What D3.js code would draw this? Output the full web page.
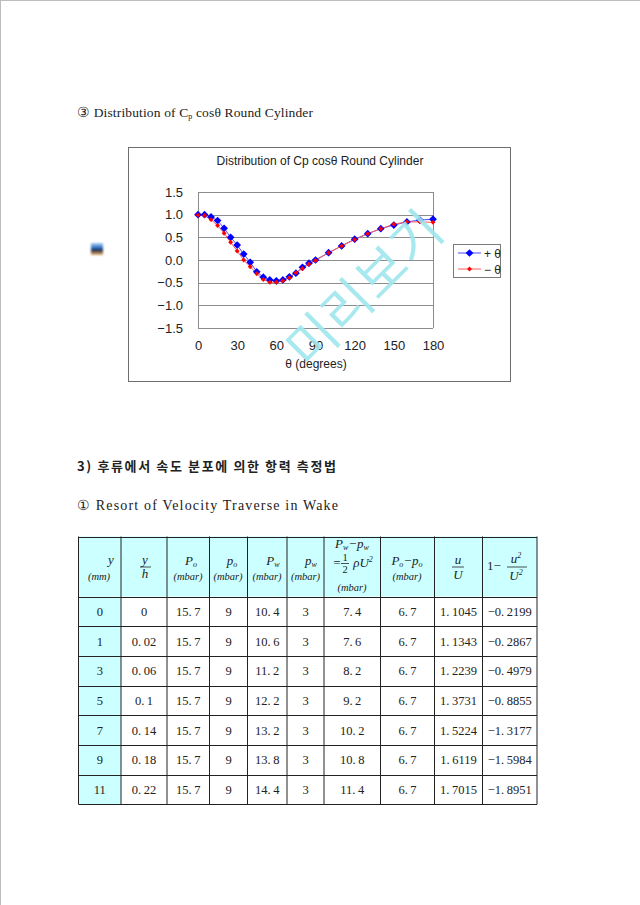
<!DOCTYPE html>
<html><head><meta charset="utf-8">
<script src="https://cdn.jsdelivr.net/npm/d3@7"></script>
<style>
html,body{margin:0;padding:0;background:#fff;}
svg{display:block;}
</style></head>
<body>
<script>
// ---------- chart data ----------
const angles = [0,5,10,15,20,25,30,35,40,45,50,55,60,65,70,75,80,85,90,100,110,120,130,140,150,160,170,180];
const cpPlus  = [1.00,1.00,0.95,0.87,0.70,0.50,0.33,0.13,-0.05,-0.26,-0.38,-0.44,-0.46,-0.44,-0.37,-0.29,-0.16,-0.07,0.00,0.16,0.31,0.46,0.58,0.69,0.77,0.84,0.88,0.90];
const cpMinus = [0.99,0.98,0.89,0.76,0.59,0.39,0.20,0.00,-0.15,-0.30,-0.43,-0.49,-0.49,-0.46,-0.39,-0.28,-0.19,-0.09,-0.01,0.16,0.31,0.45,0.58,0.69,0.79,0.84,0.84,0.83];
const yTicks = [-1.5,-1.0,-0.5,0.0,0.5,1.0,1.5];
const xTicks = [0,30,60,90,120,150,180];
const seriesNames = ["+ \u03b8", "\u2212 \u03b8"];
const chartTitle = "Distribution of Cp cos\u03b8 Round Cylinder";
const xTitle = "\u03b8 (degrees)";

// ---------- table data ----------
const colY   = ["0","1","3","5","7","9","11"];
const colYH  = ["0","0.02","0.06","0.1","0.14","0.18","0.22"];
const colPo  = ["15.7","15.7","15.7","15.7","15.7","15.7","15.7"];
const colpo  = ["9","9","9","9","9","9","9"];
const colPw  = ["10.4","10.6","11.2","12.2","13.2","13.8","14.4"];
const colpw  = ["3","3","3","3","3","3","3"];
const colDyn = ["7.4","7.6","8.2","9.2","10.2","10.8","11.4"];
const colDp  = ["6.7","6.7","6.7","6.7","6.7","6.7","6.7"];
const colUU  = ["1.1045","1.1343","1.2239","1.3731","1.5224","1.6119","1.7015"];
const colOne = ["-0.2199","-0.2867","-0.4979","-0.8855","-1.3177","-1.5984","-1.8951"];

const W = 640, H = 905;
const svg = d3.select("body").append("svg").attr("width", W).attr("height", H);
const defs = svg.append("defs");

// page border (top/left)
svg.append("line").attr("x1",0).attr("x2",W).attr("y1",0.5).attr("y2",0.5).attr("stroke","#bdbdbd");
svg.append("line").attr("x1",0.5).attr("x2",0.5).attr("y1",0).attr("y2",H).attr("stroke","#bdbdbd");

const serif = "'Liberation Serif','DejaVu Serif',serif";
const sans = "'Liberation Sans',Arial,sans-serif";
const kor = "'Noto Sans CJK KR',sans-serif";

// heading 1
const h1 = svg.append("text").attr("x",77).attr("y",117).attr("font-family",serif).attr("font-size",13.5).attr("fill","#222")
  .attr("textLength",236).attr("lengthAdjust","spacing");
h1.append("tspan").text("\u2462 Distribution of C");
h1.append("tspan").attr("font-size",8).attr("dy",2).text("p");
h1.append("tspan").attr("dy",-2).text(" cos\u03b8 Round Cylinder");

// small icon
const g1 = defs.append("linearGradient").attr("id","ic").attr("x1",0).attr("x2",0).attr("y1",0).attr("y2",1);
[["0","#a9d2f5"],["0.4","#2d6cc0"],["0.6","#1b2a44"],["1","#f2b36a"]].forEach(s=>g1.append("stop").attr("offset",s[0]).attr("stop-color",s[1]));
defs.append("filter").attr("id","bl").append("feGaussianBlur").attr("stdDeviation",0.9);
svg.append("rect").attr("x",91).attr("y",243).attr("width",12).attr("height",12).attr("fill","url(#ic)").attr("filter","url(#bl)");

// ---------- chart ----------
svg.append("rect").attr("x",128.5).attr("y",147.5).attr("width",382).attr("height",234)
  .attr("fill","#fff").attr("stroke","#6e6e6e");

svg.append("text").attr("x",320).attr("y",165).attr("text-anchor","middle").attr("font-family",sans)
  .attr("font-size",12).attr("fill","#222").text(chartTitle);

const x = d3.scaleLinear().domain([0,180]).range([198,433]);
const y = d3.scaleLinear().domain([-1.5,1.5]).range([328,192]);

// gridlines
svg.append("g").selectAll("line").data(yTicks).join("line")
  .attr("x1",x(0)).attr("x2",x(180))
  .attr("y1",d=>Math.round(y(d))+0.5).attr("y2",d=>Math.round(y(d))+0.5)
  .attr("stroke","#8c8c8c");
// plot frame verticals
[0,180].forEach(v=>svg.append("line").attr("x1",Math.round(x(v))+0.5).attr("x2",Math.round(x(v))+0.5)
  .attr("y1",y(1.5)).attr("y2",y(-1.5)).attr("stroke","#8c8c8c"));

const fmtY = v => (v<0?"\u2212":"") + Math.abs(v).toFixed(1);
const yAx = svg.append("g").attr("transform",`translate(${x(0)},0)`)
  .call(d3.axisLeft(y).tickValues(yTicks).tickSize(0).tickPadding(15).tickFormat(fmtY));
yAx.select(".domain").remove();
yAx.selectAll("text").attr("font-family",sans).attr("font-size",13).attr("fill","#222");

const xAx = svg.append("g").attr("transform",`translate(0,${y(-1.5)})`)
  .call(d3.axisBottom(x).tickValues(xTicks).tickSize(0).tickPadding(13).tickFormat(d3.format("d")));
xAx.select(".domain").remove();
xAx.selectAll("text").attr("font-family",sans).attr("font-size",13).attr("fill","#222");

svg.append("text").attr("x",316).attr("y",368).attr("text-anchor","middle").attr("font-family",sans)
  .attr("font-size",12).attr("fill","#222").text(xTitle);

const line = d3.line().x((d,i)=>x(angles[i])).y(d=>y(d));
const series = [
  {vals: cpPlus, line:"#4a4aff", mark:"#0000ff", size:30},
  {vals: cpMinus, line:"#ff5a5a", mark:"#ff0000", size:12}
];
const sym = d3.symbol().type(d3.symbolSquare);
series.forEach(s=>{
  svg.append("path").attr("d",line(s.vals)).attr("fill","none").attr("stroke",s.line).attr("stroke-width",1);
});
series.forEach(s=>{
  svg.append("g").selectAll("path").data(s.vals).join("path")
    .attr("d",sym.size(s.size)())
    .attr("transform",(d,i)=>`translate(${x(angles[i])},${y(d)}) rotate(45)`)
    .attr("fill",s.mark);
});

// legend
svg.append("rect").attr("x",453.5).attr("y",244.5).attr("width",47).attr("height",33).attr("fill","#fff").attr("stroke","#7a7a7a");
series.forEach((s,i)=>{
  const ly = 253 + i*16;
  svg.append("line").attr("x1",458).attr("x2",481).attr("y1",ly).attr("y2",ly).attr("stroke",s.line);
  svg.append("path").attr("d",sym.size(s.size)()).attr("transform",`translate(469.5,${ly}) rotate(45)`).attr("fill",s.mark);
  svg.append("text").attr("x",484).attr("y",ly+4.5).attr("font-family",sans).attr("font-size",12).attr("fill","#222").text(seriesNames[i]);
});

// watermark
svg.append("text").attr("transform","translate(362,286) rotate(-45)").attr("text-anchor","middle")
  .attr("dominant-baseline","central")
  .attr("font-family",kor).attr("font-size",52).attr("fill","#9fe6ee").attr("opacity",0.9)
  .attr("letter-spacing",1).text("\uBBF8\uB9AC\uBCF4\uAE30");

// ---------- headings 2 ----------
svg.append("text").attr("x",77).attr("y",471).attr("font-family",kor).attr("font-weight",700).attr("font-size",13)
  .attr("fill","#222").attr("textLength",259).attr("lengthAdjust","spacing")
  .text("3) 후류에서 속도 분포에 의한 항력 측정법");
svg.append("text").attr("x",77).attr("y",510).attr("font-family",serif).attr("font-size",14).attr("fill","#222")
  .attr("textLength",261).attr("lengthAdjust","spacing")
  .text("\u2460 Resort of Velocity Traverse in Wake");

// ---------- table ----------
const colEdges = [78.5,121,167,209.5,247.5,287,324,380.5,434.5,482.5,537];
const rowTop = 536.5, headH = 60, rowH = 29.7;
const cols = [colY,colYH,colPo,colpo,colPw,colpw,colDyn,colDp,colUU,colOne];
const nRows = colY.length;
const tbl = svg.append("g");
// fills
tbl.append("rect").attr("x",colEdges[0]).attr("y",rowTop).attr("width",colEdges[10]-colEdges[0]).attr("height",headH).attr("fill","#ccffff");
tbl.append("rect").attr("x",colEdges[0]).attr("y",rowTop+headH).attr("width",colEdges[1]-colEdges[0]).attr("height",rowH*nRows).attr("fill","#ccffff");
// lines
const bottom = rowTop+headH+rowH*nRows;
colEdges.forEach(cx=>tbl.append("line").attr("x1",cx).attr("x2",cx).attr("y1",rowTop).attr("y2",bottom).attr("stroke","#222"));
d3.range(nRows+2).forEach(r=>{
  const ry = r===0?rowTop:rowTop+headH+rowH*(r-1);
  tbl.append("line").attr("x1",colEdges[0]).attr("x2",colEdges[10]).attr("y1",Math.round(ry)+0.5).attr("y2",Math.round(ry)+0.5).attr("stroke","#222");
});
// body values
const pretty = s => s.replace("-", "\u2212").replace(".", ".\u2009");
cols.forEach((col,ci)=>{
  const cx = (colEdges[ci]+colEdges[ci+1])/2;
  tbl.append("g").selectAll("text").data(col).join("text")
    .attr("x",cx).attr("y",(d,i)=>rowTop+headH+rowH*i+rowH/2+4.5)
    .attr("text-anchor","middle").attr("font-family",serif).attr("font-size",12.5).attr("fill","#222")
    .text(d=>pretty(d));
});

// header
const it = (xx,yy,t,sz,anchor) => tbl.append("text").attr("x",xx).attr("y",yy).attr("font-family",serif)
  .attr("font-style","italic").attr("font-size",sz||13).attr("fill","#222").attr("text-anchor",anchor||"middle").text(t);
const rule = (x1,x2,yy) => tbl.append("line").attr("x1",x1).attr("x2",x2).attr("y1",yy).attr("y2",yy).attr("stroke","#222").attr("stroke-width",0.8);
const mb = "(mbar)";
const mbY = 580;
// col1
it(111,564,"y"); it(99,mbY,"(mm)",10.5);
// col2
it(145,564,"y"); rule(140,151,567); it(145,578,"h");
// col3..6
[[191,"P","o",188],[232,"p","o",228],[273,"P","w",267],[311,"p","w",305.5]].forEach(c=>{
  const t = it(c[0],565,c[1]);
  t.append("tspan").attr("font-size",8).attr("dy",1.5).text(c[2]);
  it(c[3],mbY,mb,10.5);
});
// col7
{ const t = it(352,548,"P"); t.append("tspan").attr("font-size",8).attr("dy",1.5).text("w");
  t.append("tspan").attr("dy",-1.5).text("\u2212p"); t.append("tspan").attr("font-size",8).attr("dy",1.5).text("w");
  it(337,567,"=",13); it(345,561,"1",10.5).attr("font-style","normal"); rule(341,349,563.5); it(345,573,"2",10.5).attr("font-style","normal");
  const r = it(363,567,"\u03c1U"); r.append("tspan").attr("font-size",8).attr("dy",-5).text("2");
  it(352,591,mb,10.5); }
// col8
{ const t = it(407,565,"P"); t.append("tspan").attr("font-size",8).attr("dy",1.5).text("o");
  t.append("tspan").attr("dy",-1.5).text("\u2212p"); t.append("tspan").attr("font-size",8).attr("dy",1.5).text("o");
  it(407,mbY,mb,10.5); }
// col9
it(458,564,"u"); rule(452,464,567); it(458,579,"U");
// col10
it(494,570,"1\u2212",13).attr("font-style","normal");
{ const a = it(516,563,"u"); a.append("tspan").attr("font-size",8).attr("dy",-5).text("2");
  rule(507,527,567);
  const b = it(516,580,"U"); b.append("tspan").attr("font-size",8).attr("dy",-5).text("2"); }
</script>
</body></html>
